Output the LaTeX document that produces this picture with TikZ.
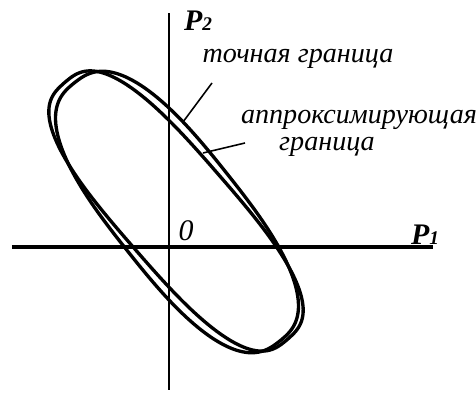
\documentclass[tikz,border=0pt]{standalone}
\usepackage{fontspec}
\setmainfont{Liberation Serif}
\begin{document}
\begin{tikzpicture}[x=0.02cm,y=0.02cm,
  every node/.style={font=\fontsize{16}{18}\selectfont\itshape,inner sep=0pt},
  bnd/.style={line width=1.9pt,line join=round},
  axlbl/.style={font=\fontsize{17}{18}\selectfont\bfseries\itshape}]
\useasboundingbox (-169,-147) rectangle (307,247);
% axes
\coordinate (xl) at (-157,0);\coordinate (xr) at (264,0);
\coordinate (yb) at (0,-143);\coordinate (yt) at (0,234);
\draw[line width=1.8pt] (xl)--(xr);
\draw[line width=0.9pt] (yb)--(yt);
% exact and approximating boundaries
\draw[bnd,shift={(8,35)},rotate=-51.5] plot[domain=0:356,samples=90,smooth cycle,variable=\t]
  ({165*cos(\t)*pow(abs(cos(\t))+0.001,-0.25)},{63*sin(\t)*pow(abs(sin(\t))+0.001,-0.25)});
\draw[bnd,shift={(7,36)},rotate=-49] plot[domain=0:356,samples=90,smooth cycle,variable=\t]
  ({170*cos(\t)*pow(abs(cos(\t))+0.001,-0.3)},{56*sin(\t)*pow(abs(sin(\t))+0.001,-0.3)});
% labels
\node[axlbl] (p2) at (29,226) {P{\fontsize{11}{11}\selectfont 2}};
\node[axlbl] (p1) at (256,12) {P{\fontsize{11}{11}\selectfont 1}};
\node[axlbl] (zero) at (17,16) {\mdseries 0};
\node (exact) at (129,188) {точная граница};
\node (approx) at (190,127) {аппроксимирующая};
\node (approx2) at (158,100) {граница};
\coordinate (ex) at (43,164);\coordinate (ep) at (14,125);
\coordinate (ax) at (76,104);\coordinate (ap) at (34,94);
\draw[line width=0.9pt] (ex)--(ep) (ax)--(ap);
\end{tikzpicture}
\end{document}
